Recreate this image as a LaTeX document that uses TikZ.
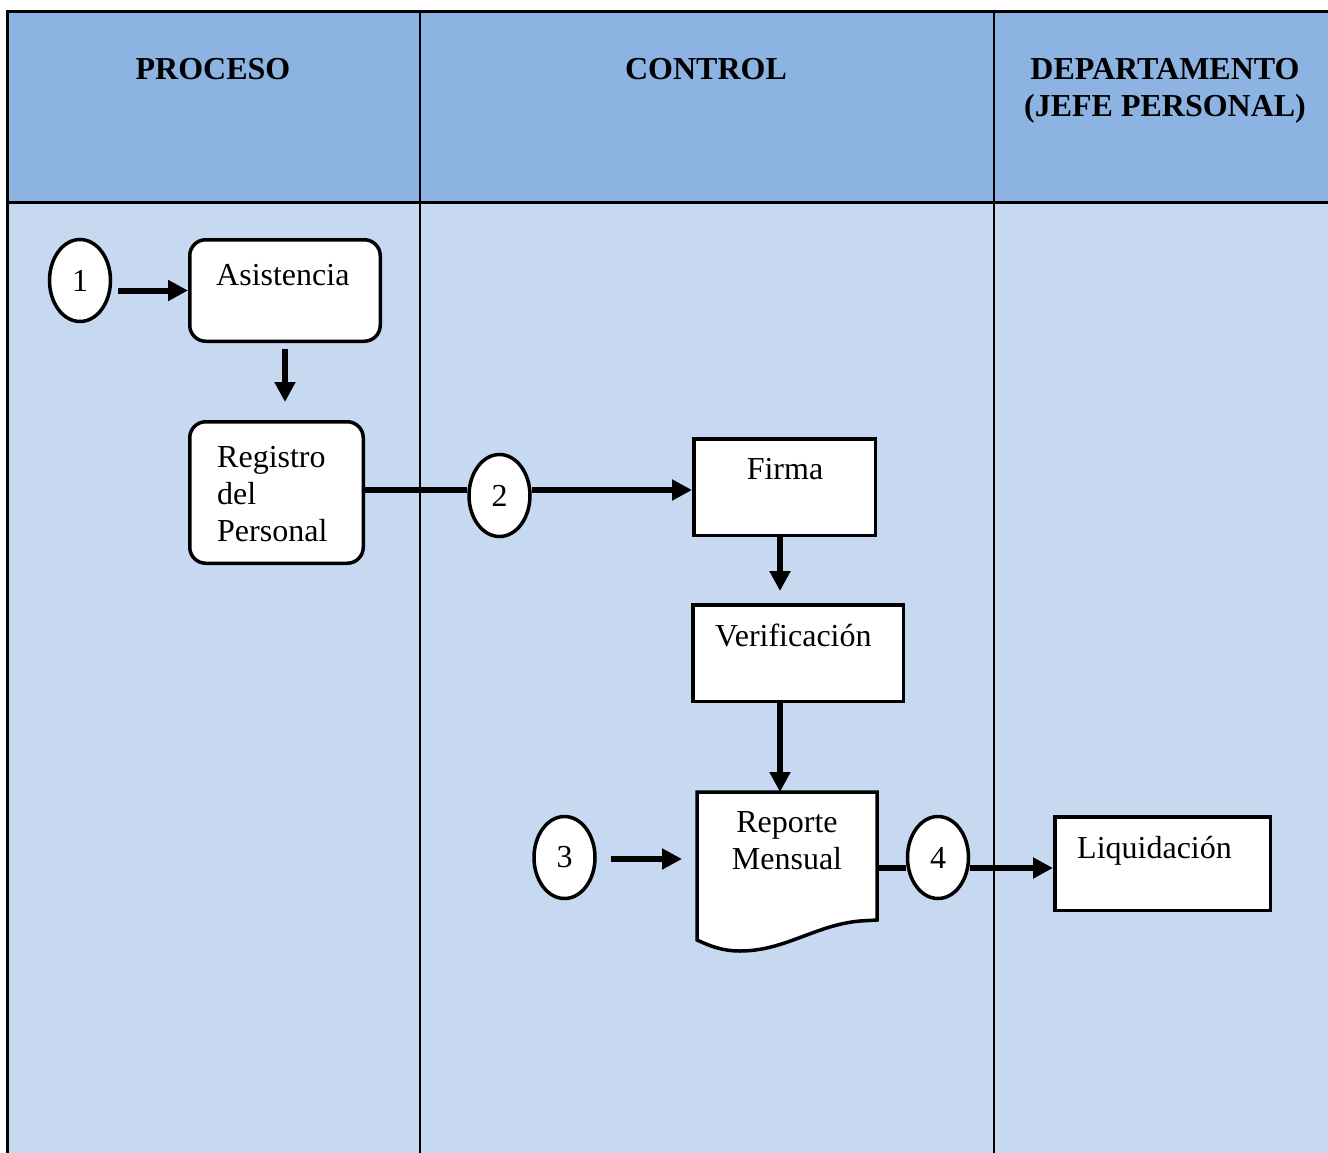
\documentclass[tikz,border=0pt]{standalone}
\usepackage{fontspec}
\setmainfont{Liberation Serif}
\usetikzlibrary{arrows.meta,shapes.geometric,calc}
\definecolor{headblue}{HTML}{8DB3E2}
\definecolor{bodyblue}{HTML}{C6D9F1}
\begin{document}
\begin{tikzpicture}[x=1pt,y=-1pt,
  txt/.style={font=\fontsize{32}{37}\selectfont, inner sep=0pt},
  hdr/.style={font=\fontsize{32}{37}\selectfont\bfseries, inner sep=0pt, anchor=base},
  rbox/.style={draw, line width=3.5pt, fill=white, rounded corners=16pt, inner sep=0pt, anchor=north west},
  sbox/.style={draw, line width=3.5pt, fill=white, inner sep=0pt, anchor=north west},
  conn/.style={draw, ellipse, line width=3.5pt, fill=white, minimum width=61pt, minimum height=82pt, inner sep=0pt, font=\fontsize{32}{37}\selectfont},
  flow/.style={line width=6pt, -{Triangle[length=20pt,width=20pt]}},
  link/.style={line width=6pt},
]
\useasboundingbox (0,0) rectangle (1328,1153);
% lanes
\fill[bodyblue] (7,202) rectangle (1328,1153);
\fill[headblue] (7,12) rectangle (1328,202);
\draw[line width=3pt] (7,1153) -- (7,12) -- (1328,12);
\draw[line width=3pt] (7,202) -- (1328,202);
\draw[line width=2pt] (420,12) -- (420,1153);
\draw[line width=2pt] (994,12) -- (994,1153);
% headers
\node[hdr] (hproc) at (213,80) {PROCESO};
\node[hdr] (hctrl) at (706,80) {CONTROL};
\node[hdr] (hdept) at (1165,80) {\begin{tabular}[t]{@{}c@{}}DEPARTAMENTO\\(JEFE PERSONAL)\end{tabular}};
% boxes
\node[rbox, minimum width=190.5pt, minimum height=101.5pt] (asis) at (188,238) {};
\node[txt, anchor=base west] (asisT) at (216,285) {Asistencia};
\node[rbox, minimum width=173.5pt, minimum height=141.5pt] (reg) at (188,420) {};
\node[txt, anchor=base west] (regT) at (217,467) {\begin{tabular}[t]{@{}l@{}}Registro\\del\\Personal\end{tabular}};
\node[sbox, minimum width=181.5pt, minimum height=96.5pt] (firma) at (692,437) {};
\node[txt, anchor=base] (firmaT) at (785,479) {Firma};
\node[sbox, minimum width=210.5pt, minimum height=96.5pt] (verif) at (691,603) {};
\node[txt, anchor=base west] (verifT) at (715,646) {Verificación};
\node[sbox, minimum width=215.5pt, minimum height=93.5pt] (liq) at (1053,815) {};
\node[txt, anchor=base west] (liqT) at (1077,858) {Liquidación};
% document shape
\node[draw=none, inner sep=0pt, outer sep=0pt, anchor=north west, minimum width=180pt, minimum height=128pt] (rep) at (697,792) {};
\draw[line width=3.5pt, fill=white, line join=miter] (rep.north west) -- (rep.north east) -- (rep.south east) -- (860,921)
  .. controls (815,925) and (785,951) .. (740,951)
  .. controls (722,951) and (710,946) .. (697,940) -- cycle;
\node[txt, anchor=base] (repT) at (787,832) {\begin{tabular}[t]{@{}c@{}}Reporte\\Mensual\end{tabular}};
% connectors (circles)
\node[conn] (c1) at (80,280.5) {1};
\node[conn] (c2) at (499.5,495.5) {2};
\node[conn] (c3) at (564.5,857.5) {3};
\node[conn] (c4) at (938,857.5) {4};
% arrows
\draw[flow, shorten <=6pt] (c1.east |- asis.west) -- (asis.west);
\draw[flow, shorten <=6pt, shorten >=18pt] (asis.south) -- (asis.south |- reg.north);
\draw[link] ([yshift=5.5pt]c2.west -| reg.east) -- ([yshift=5.5pt]c2.west);
\draw[flow] ([yshift=5.5pt]c2.east) -- ([yshift=5.5pt]c2.east -| firma.west);
\draw[flow, shorten >=12pt] ([xshift=-4.5pt]firma.south) -- ([xshift=-4.5pt]firma.south |- verif.north);
\draw[flow] ([xshift=-7pt]rep.north |- verif.south) -- ([xshift=-7pt]rep.north);
\draw[flow, shorten <=14pt, shorten >=15pt] ([yshift=-1.5pt]c3.east) -- ([yshift=-1.5pt]c3.east -| rep.west);
\draw[link] ([yshift=-10.5pt]c4.west -| rep.east) -- ([yshift=-10.5pt]c4.west);
\draw[flow] ([yshift=-10.5pt]c4.east) -- ([yshift=-10.5pt]c4.east -| liq.west);
\end{tikzpicture}
\end{document}
